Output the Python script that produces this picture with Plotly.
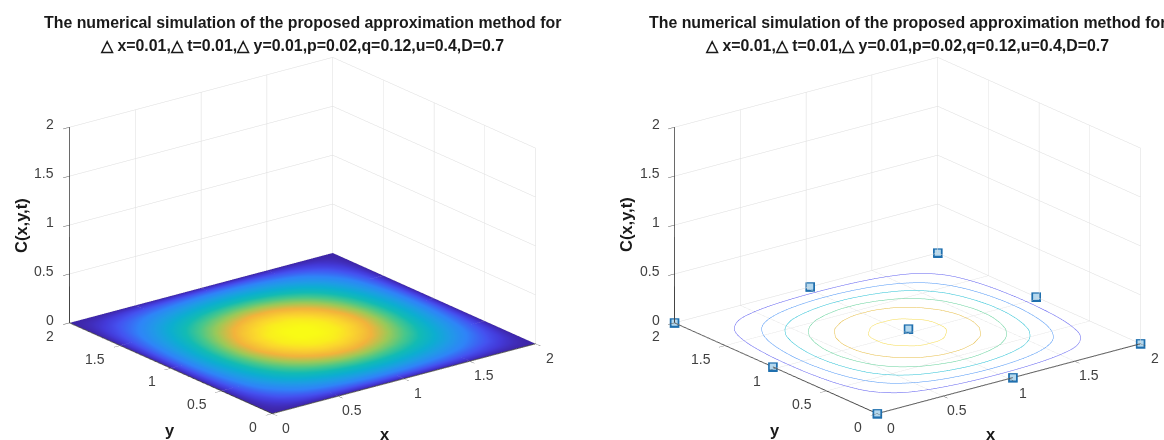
import numpy as np
import plotly.graph_objects as go

title_line1 = "The numerical simulation of the proposed approximation method for"
title_line2 = "△ x=0.01,△ t=0.01,△ y=0.01,p=0.02,q=0.12,u=0.4,D=0.7"
tick_vals = [0, 0.5, 1, 1.5, 2]
tick_text = ["0", "0.5", "1", "1.5", "2"]
grid_x = [0.00,0.05,0.10,0.15,0.20,0.25,0.30,0.35,0.40,0.45,0.50,0.55,0.60,0.65,0.70,0.75,0.80,0.85,0.90,0.95,1.00,
          1.05,1.10,1.15,1.20,1.25,1.30,1.35,1.40,1.45,1.50,1.55,1.60,1.65,1.70,1.75,1.80,1.85,1.90,1.95,2.00]
grid_y = list(grid_x)
profile = [0.000,0.008,0.016,0.023,0.031,0.038,0.045,0.052,0.059,0.065,0.071,0.076,0.081,0.085,0.089,0.092,0.095,0.097,0.099,0.100,0.100,
           0.100,0.099,0.097,0.095,0.092,0.089,0.085,0.081,0.076,0.071,0.065,0.059,0.052,0.045,0.038,0.031,0.023,0.016,0.008,0.000]
marker_x = [0, 1.03, 2, 0, 1.03, 2, 0, 1.03, 2]
marker_y = [0, 0, 0, 1.03, 1.03, 1.03, 2, 2, 2]
marker_z = [0, 0, 0, 0, 0.02, 0, 0, 0, 0]
marker_fill_z = [0.004, 0.004, 0.004, 0.004, 0.024, 0.004, 0.004, 0.004, 0.004]
contour_levels = [0.00155, 0.0031, 0.00465, 0.0062, 0.00775, 0.0093]
contour_colors = ["#5c5cf0", "#4a94f6", "#22bfd4", "#5fd098", "#e6bc40", "#f5da48"]

parula = [[0.0,"#3e26a8"],[0.05,"#4339d8"],[0.1,"#4452f0"],[0.2,"#2f84f8"],[0.3,"#1f9ce6"],[0.4,"#0caed0"],[0.5,"#12bbb4"],
          [0.6,"#48c78b"],[0.7,"#9cc958"],[0.8,"#f2b33c"],[0.9,"#fbd92c"],[0.95,"#f9ee1e"],[1.0,"#f9fb15"]]

C = np.outer(profile, profile)

fig = go.Figure()
fig.add_trace(go.Surface(x=grid_x, y=grid_y, z=C, scene="scene", colorscale=parula, cmin=0, cmax=0.01,
                         showscale=False, hoverinfo="skip",
                         lighting=dict(ambient=1, diffuse=0, specular=0, fresnel=0, roughness=1)))
for level, color in zip(contour_levels, contour_colors):
    fig.add_trace(go.Surface(x=grid_x, y=grid_y, z=C, scene="scene2", colorscale=parula, cmin=0, cmax=0.01,
                             showscale=False, hoverinfo="skip", hidesurface=True,
                             contours=dict(z=dict(show=True, start=level, end=level + 0.0001, size=0.001,
                                                  color=color, usecolormap=False, width=2))))
fig.add_trace(go.Scatter3d(x=marker_x, y=marker_y, z=marker_z, scene="scene2", mode="markers",
                           marker=dict(symbol="square", size=5, color="#1f6fae"),
                           hoverinfo="skip"))
fig.add_trace(go.Scatter3d(x=marker_x, y=marker_y, z=marker_fill_z, scene="scene2", mode="markers",
                           marker=dict(symbol="square", size=3.2, color="#b4d8ee"),
                           hoverinfo="skip"))

tick_font = dict(family="Liberation Sans", size=14, color="#404040")

def axis():
    return dict(range=[0, 2], tickvals=tick_vals, ticktext=tick_text, showbackground=False, showticklabels=False,
                gridcolor="#dcdcdc", gridwidth=1, zeroline=False, showline=True, linecolor="#444444", linewidth=2,
                ticks="outside", ticklen=8, tickcolor="#555555", title=dict(text=""))

def tick_annotations():
    out = []
    for v, s in zip(tick_vals, tick_text):
        out.append(dict(x=v, y=0, z=0, text=s, showarrow=False, xanchor="center", yanchor="middle",
                        xshift=14, yshift=-14, font=tick_font))
        out.append(dict(x=0, y=v, z=0, text=s, showarrow=False, xanchor="right", yanchor="middle",
                        xshift=-13, yshift=-13, font=tick_font))
        out.append(dict(x=0, y=2, z=v, text=s, showarrow=False, xanchor="right", yanchor="middle",
                        xshift=-13, yshift=3, font=tick_font))
    return out

def scene(domain_x, eye):
    return dict(domain=dict(x=domain_x, y=[0, 409/440]),
                xaxis=axis(), yaxis=axis(), zaxis=axis(),
                aspectmode="manual", aspectratio=dict(x=1.625, y=1.625, z=1.019),
                annotations=tick_annotations(),
                camera=dict(projection=dict(type="orthographic"), eye=eye, up=dict(x=0, y=0, z=1), center=dict(x=0, y=0, z=0)))

R = 1.226
eye = dict(x=-0.573*R, y=-0.744*R, z=0.345*R)

def text(x, y, s, size=15.9, angle=0):
    return dict(x=x/1164, y=1-y/440, xref="paper", yref="paper", text=f"<b>{s}</b>", showarrow=False, textangle=angle,
                xanchor="center", yanchor="middle",
                font=dict(family="Liberation Sans", size=size, color="#1a1a1a"))

fig.update_layout(
    width=1164, height=440, margin=dict(l=0, r=0, t=0, b=0), paper_bgcolor="white", showlegend=False,
    scene=scene([0, 605/1164], eye),
    scene2=scene([651.4/1164, 1], eye),
    annotations=[
        text(302, 23, title_line1), text(302, 45, title_line2),
        text(907, 23, title_line1), text(907, 45, title_line2),
        text(385, 434, "x", 16.5), text(170, 430, "y", 16.5), text(21, 225, "C(x,y,t)", 16.5, -90),
        text(991, 434, "x", 16.5), text(775, 430, "y", 16.5), text(626, 225, "C(x,y,t)", 16.5, -90),
    ],
)
fig.write_html("out.html", config=dict(displayModeBar=False),
               post_script="document.body.style.margin='0';document.body.style.overflow='hidden';")
